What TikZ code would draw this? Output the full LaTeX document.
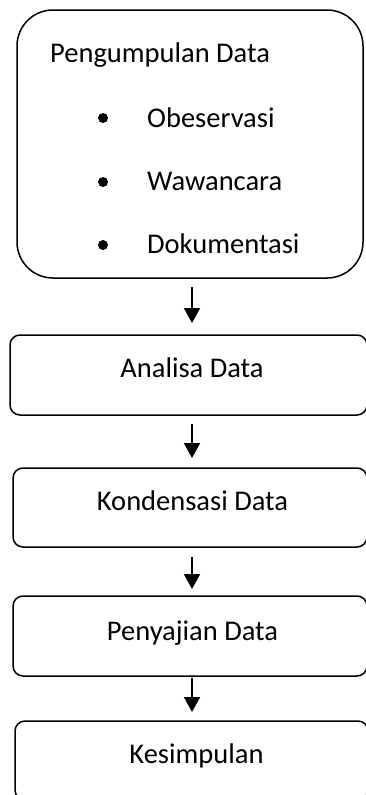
\documentclass[tikz,border=0pt]{standalone}
\usepackage{fontspec}
\setmainfont{Carlito}
\usetikzlibrary{arrows.meta}
\begin{document}
\begin{tikzpicture}[x=1pt,y=-1pt,
  box/.style={draw, line width=1.5pt, rounded corners=10pt, inner sep=0pt, outer sep=0pt},
  lbl/.style={inner sep=0pt, font=\fontsize{28.5}{34}\selectfont},
  bul/.style={circle, fill=black, minimum size=10pt, inner sep=0pt},
  arr/.style={line width=2pt, -{Triangle[width=16pt,length=15pt]}}]
\useasboundingbox (0,0) rectangle (366,795);
\begin{scope}
\clip (0,0) rectangle (366,795);
\node[box, rounded corners=36pt, minimum width=346pt, minimum height=268pt] (pd) at (190,144) {};
\node[box, minimum width=357pt, minimum height=80pt] (ad) at (188.5,375) {};
\node[box, minimum width=354pt, minimum height=79pt] (kd) at (190,507.5) {};
\node[box, minimum width=354pt, minimum height=80pt] (sd) at (190,636) {};
\node[box, minimum width=353pt, minimum height=79pt] (ks) at (191.5,760.5) {};
\end{scope}
\node[lbl, anchor=base west] (t0) at (50,62) {Pengumpulan Data};
\node[bul] (b1) at (103,118) {};
\node[bul] (b2) at (103,182) {};
\node[bul] (b3) at (103,245) {};
\node[lbl, anchor=base west] (t1) at (147,127) {Obeservasi};
\node[lbl, anchor=base west] (t2) at (147,190) {Wawancara};
\node[lbl, anchor=base west] (t3) at (147,253) {Dokumentasi};
\node[lbl, anchor=base] (ta) at (192,377) {Analisa Data};
\node[lbl, anchor=base] (tk) at (192.5,510) {Kondensasi Data};
\node[lbl, anchor=base] (ts) at (192.5,640) {Penyajian Data};
\node[lbl, anchor=base] (te) at (196.5,763) {Kesimpulan};
\coordinate (ax) at (192,0);
\draw[arr, shorten <=9pt, shorten >=12pt] (pd.south -| ax) -- (ad.north -| ax);
\draw[arr, shorten <=9pt, shorten >=10pt] (ad.south -| ax) -- (kd.north -| ax);
\draw[arr, shorten <=10pt, shorten >=7pt] (kd.south -| ax) -- (sd.north -| ax);
\draw[arr, shorten <=2pt, shorten >=9pt] (sd.south -| ax) -- (ks.north -| ax);
\end{tikzpicture}
\end{document}
